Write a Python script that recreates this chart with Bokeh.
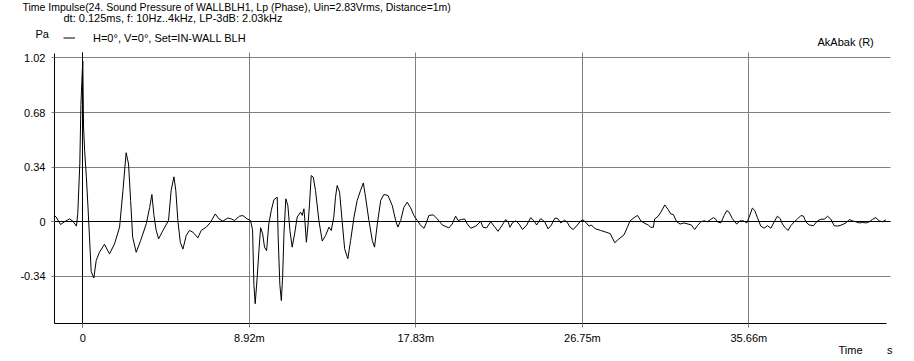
from bokeh.plotting import figure
from bokeh.embed import file_html
from bokeh.resources import INLINE
from bokeh.models import (Legend, LegendItem, Label, FixedTicker, Range1d, Grid)

# ---------------- data (time in ms, pressure in Pa) ----------------
t_direct = [-1.52, -1.43, -1.19, -0.98, -0.71, -0.53, -0.34, -0.27, -0.16, -0.10, -0.03, 0.0,
            0.04, 0.10, 0.19, 0.27, 0.36, 0.45, 0.59, 0.72, 0.89, 1.16, 1.43, 1.70, 1.97,
            2.15, 2.32, 2.45, 2.56, 2.67, 2.86, 3.10, 3.40, 3.58, 3.70, 3.81, 3.93, 4.06,
            4.29, 4.59, 4.73, 4.88, 4.98, 5.09, 5.22, 5.36, 5.54, 5.71, 5.89, 6.16, 6.34,
            6.61, 6.84, 7.09, 7.29, 7.50, 7.77, 7.95, 8.12, 8.39, 8.57, 8.80, 8.98]
p_direct = [0.039, 0.03, -0.017, 0.0, 0.018, 0.004, -0.027, 0.05, 0.36, 0.73, 0.93, 1.0,
            0.59, 0.44, 0.28, 0.11, -0.10, -0.31, -0.35, -0.24, -0.19, -0.14, -0.20, -0.137, -0.033,
            0.195, 0.43, 0.36, 0.133, -0.096, -0.19, -0.116, -0.012, 0.09, 0.17, 0.039, -0.054, -0.106,
            -0.054, 0.008, 0.195, 0.28, 0.195, 0.008, -0.127, -0.17, -0.085, -0.054, -0.064, -0.10, -0.054,
            -0.033, -0.003, 0.049, 0.018, 0.004, 0.024, 0.018, 0.008, 0.035, 0.039, 0.018, 0.008]

t_reflect = [9.09, 9.16, 9.23, 9.34, 9.43, 9.52, 9.63, 9.73, 9.84, 9.96, 10.09, 10.23, 10.41,
             10.46, 10.55, 10.63, 10.70, 10.77, 10.87, 10.98, 11.09, 11.21, 11.34, 11.48, 11.66,
             11.75, 11.84, 11.89, 11.97, 12.05, 12.14, 12.23, 12.34, 12.46, 12.64, 12.82, 13.00,
             13.18, 13.30, 13.44, 13.53, 13.62, 13.75, 13.89, 14.02, 14.19, 14.34, 14.52, 14.69,
             14.87, 15.02, 15.14, 15.32, 15.50, 15.62, 15.77, 15.95, 16.12, 16.34, 16.57, 16.75,
             16.87, 17.02, 17.19, 17.37, 17.55, 17.73, 17.91]
p_reflect = [-0.05, -0.39, -0.51, -0.34, -0.18, -0.037, -0.075, -0.158, -0.18, -0.013, 0.07, 0.137, 0.153,
             -0.095, -0.39, -0.49, -0.34, -0.075, 0.143, 0.101, -0.054, -0.158, -0.075, 0.03, 0.06,
             0.04, 0.081, 0.008, -0.127, -0.033, 0.112, 0.288, 0.278, 0.195, 0.008, -0.12, -0.085,
             -0.033, -0.054, 0.029, 0.153, 0.226, 0.184, -0.002, -0.168, -0.23, -0.116, 0.029, 0.133,
             0.195, 0.242, 0.153, 0.008, -0.116, -0.158, -0.013, 0.133, 0.17, 0.164, 0.101, 0.008,
             -0.033, 0.008, 0.09, 0.122, 0.087, 0.039, 0.008]

t_tail1 = [18.09, 18.27, 18.41, 18.53, 18.77, 18.98, 19.25, 19.60, 19.78, 19.96, 20.09, 20.27,
           20.44, 20.59, 20.77, 21.04, 21.30, 21.43, 21.62, 21.84, 22.02, 22.23, 22.46, 22.64,
           22.77, 22.87, 23.00, 23.18, 23.36, 23.54, 23.77, 23.98, 24.16, 24.30, 24.52, 24.73,
           24.91, 25.09, 25.27, 25.41, 25.59, 25.80, 25.94, 26.09, 26.26, 26.48, 26.66, 26.78,
           26.93, 27.11, 27.23, 27.34, 27.46, 27.73, 28.00, 28.24, 28.48, 28.71, 28.98, 29.16,
           29.30, 29.52, 29.70, 29.88, 30.05, 30.27]
p_tail1 = [-0.023, -0.04, -0.002, 0.04, 0.043, 0.018, -0.02, -0.038, -0.014, 0.035, 0.008, 0.014,
           0.018, -0.014, -0.04, -0.027, 0.002, -0.034, -0.038, 0.0, -0.027, -0.059, -0.02, 0.014,
           0.0, -0.034, -0.007, 0.006, -0.014, -0.048, -0.02, 0.026, 0.006, -0.02, 0.02, 0.0,
           -0.044, -0.02, 0.022, 0.022, -0.007, 0.01, -0.004, -0.034, -0.048, -0.02, 0.006, 0.012,
           -0.004, -0.027, -0.02, -0.034, -0.044, -0.054, -0.064, -0.074, -0.13, -0.106, -0.081, -0.034,
           0.006, 0.026, 0.04, 0.006, -0.007, -0.02]

t_tail2 = [30.41, 30.55, 30.62, 30.81, 30.95, 31.16, 31.34, 31.48, 31.62, 31.80, 31.98, 32.19,
           32.41, 32.59, 32.76, 32.91, 33.09, 33.27, 33.44, 33.59, 33.76, 33.89, 33.98, 34.16,
           34.34, 34.48, 34.60, 34.78, 35.01, 35.19, 35.37, 35.55, 35.67, 35.85, 35.98, 36.12,
           36.30, 36.48, 36.66, 36.84, 37.02, 37.19, 37.34, 37.46, 37.59, 37.76, 37.91, 38.09,
           38.27, 38.45, 38.59, 38.71, 38.89, 39.12, 39.34, 39.52, 39.70, 39.88, 40.05, 40.23,
           40.41, 40.62, 40.86, 41.04, 41.21, 41.39, 41.57, 41.75, 41.93, 42.11, 42.29, 42.46,
           42.64, 42.82, 43.00]
p_tail2 = [-0.034, -0.034, 0.018, 0.035, 0.06, 0.105, 0.076, 0.049, 0.045, 0.0, -0.014, -0.007,
           -0.014, -0.02, -0.048, -0.024, 0.0, 0.006, 0.0, 0.012, 0.026, 0.016, 0.0, -0.007,
           0.039, 0.07, 0.06, 0.02, -0.014, 0.006, 0.006, -0.007, 0.026, 0.085, 0.07, 0.026,
           -0.027, -0.04, -0.024, -0.04, 0.0, 0.035, 0.02, -0.014, -0.034, -0.054, -0.024, 0.0,
           0.018, 0.039, 0.035, 0.0, -0.02, -0.024, 0.006, 0.016, 0.016, 0.035, 0.016, -0.024,
           -0.027, -0.02, -0.007, 0.014, 0.006, 0.0, -0.007, -0.004, -0.007, 0.0, 0.016, 0.026,
           0.006, 0.0, 0.012]

x_ticks = [0.0, 8.92, 17.83, 26.75, 35.66]
x_tick_labels = ["0", "8.92m", "17.83m", "26.75m", "35.66m"]
y_ticks = [-0.34, 0.0, 0.34, 0.68, 1.02]
y_tick_labels = ["-0.34", "0", "0.34", "0.68", "1.02"]

title_text = "Time Impulse(24. Sound Pressure of WALLBLH1, Lp (Phase), Uin=2.83Vrms, Distance=1m)"
info_text = "dt: 0.125ms, f: 10Hz..4kHz, LP-3dB: 2.03kHz"
legend_text = "H=0°, V=0°, Set=IN-WALL BLH"

time_ms = t_direct + t_reflect + t_tail1 + t_tail2
pressure = p_direct + p_reflect + p_tail1 + p_tail2

# ---------------- layout (frame = whole canvas, axes at fixed positions) ----------------
W, H = 914, 361
FONT = "Liberation Sans"
FS = "11px"
GRID = "#808080"
X0_PX, PX_PER_MS = 82.3, 18.677     # page x of t=0, pixels per ms
Y0_PX, PX_PER_PA = 221.3, 160.6     # page y of p=0, pixels per Pa


def dx(px):
    return (px - X0_PX) / PX_PER_MS


def dy(py):
    return (Y0_PX - py) / PX_PER_PA


p = figure(width=W, height=H, output_backend="svg", toolbar_location=None, title=None,
           x_range=Range1d(dx(0), dx(W)), y_range=Range1d(dy(H), dy(0)),
           min_border_left=0, min_border_right=0, min_border_top=0, min_border_bottom=0)
p.outline_line_color = None
p.background_fill_color = "white"
p.border_fill_color = "white"

for ax in (p.xaxis[0], p.yaxis[0]):
    ax.axis_line_color = "black"
    ax.axis_line_width = 1
    ax.major_tick_line_color = GRID
    ax.minor_tick_line_color = None
    ax.major_tick_in = 0
    ax.major_label_text_font = FONT
    ax.major_label_text_font_size = FS
    ax.major_label_text_color = "black"

p.xaxis.fixed_location = dy(323)
p.xaxis.bounds = (dx(54), dx(886))
p.xaxis.ticker = FixedTicker(ticks=x_ticks)
p.xaxis.major_label_overrides = dict(zip(x_ticks, x_tick_labels))
p.xaxis.major_tick_out = 4
p.xaxis.major_label_standoff = 4

p.yaxis.fixed_location = dx(54)
p.yaxis.bounds = (dy(323), dy(53))
p.yaxis.ticker = FixedTicker(ticks=y_ticks)
p.yaxis.major_label_overrides = dict(zip(y_ticks, y_tick_labels))
p.yaxis.major_tick_out = 3
p.yaxis.major_label_standoff = 6

p.xgrid.grid_line_color = GRID
p.xgrid.cross_bounds = (dy(323), dy(52))
p.ygrid.grid_line_color = GRID
p.ygrid.cross_bounds = (dx(54), dx(890))

# black zero lines
p.add_layout(Grid(dimension=0, ticker=FixedTicker(ticks=[0]), cross_bounds=(dy(327), dy(52)),
                  grid_line_color="black"))
p.add_layout(Grid(dimension=1, ticker=FixedTicker(ticks=[0]), cross_bounds=(dx(51), dx(890)),
                  grid_line_color="black"))

r = p.line(time_ms, pressure, line_color="black", line_width=1)

legend = Legend(items=[LegendItem(label=legend_text, renderers=[r])],
                location=(63, H - 44), glyph_width=12, glyph_height=13, label_height=13,
                label_standoff=18, padding=0, margin=0, spacing=0,
                border_line_alpha=0, background_fill_alpha=0,
                label_text_font=FONT, label_text_font_size=FS, label_text_color="black")
p.add_layout(legend, "center")


def add_text(txt, px, py, size=FS):
    p.add_layout(Label(x=dx(px), y=dy(py), text=txt, text_font=FONT, text_font_size=size,
                       text_color="black", text_baseline="middle", text_align="left"))


add_text(title_text, 22, 6.5, "10.5px")
add_text(info_text, 63, 17)
add_text("Pa", 35, 33)
add_text("AkAbak (R)", 817, 41)
add_text("Time", 838, 349)
add_text("s", 886.5, 349)

open("out.html", "w").write(file_html(p, INLINE))
